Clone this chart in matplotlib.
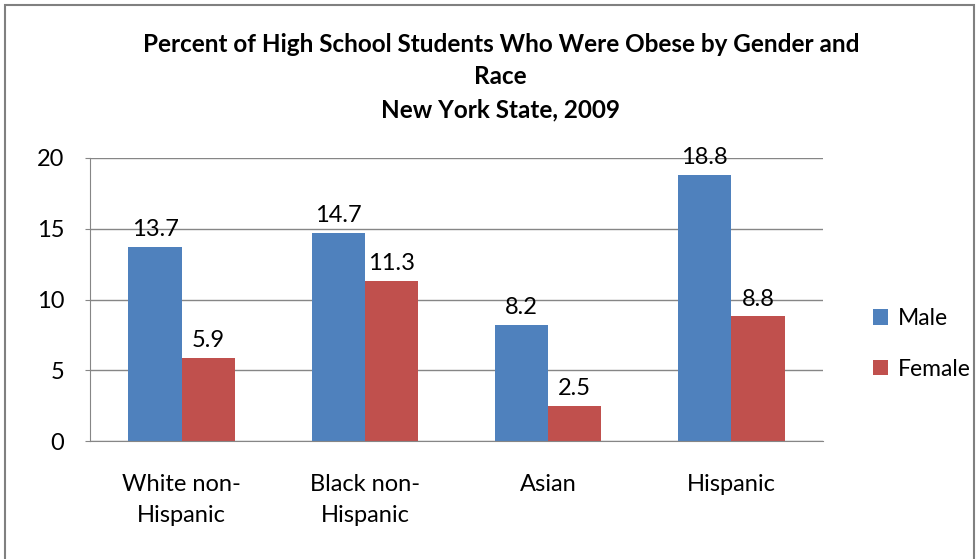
import numpy as np
import matplotlib
matplotlib.use("Agg")
import matplotlib.pyplot as plt
from matplotlib.patches import Rectangle

# Data
categories = ["White non-\nHispanic", "Black non-\nHispanic", "Asian", "Hispanic"]
male = [13.7, 14.7, 8.2, 18.8]
female = [5.9, 11.3, 2.5, 8.8]
yticks = [0, 5, 10, 15, 20]

blue = "#4F81BD"
red = "#C0504D"
grid_col = "#868686"

plt.rcParams['font.family'] = ['Lato', 'DejaVu Sans']

fig = plt.figure(figsize=(9.8, 5.59), dpi=100)
ax = fig.add_axes([90 / 980, 1 - 441 / 559, 733 / 980, 283 / 559])

x = np.arange(len(categories))
w = 0.29
b1 = ax.bar(x - w / 2, male, w, color=blue, label="Male")
b2 = ax.bar(x + w / 2, female, w, color=red, label="Female")

for bars in (b1, b2):
    for r in bars:
        ax.annotate(f"{r.get_height():.1f}", (r.get_x() + r.get_width() / 2, r.get_height()),
                    xytext=(0, 5), textcoords="offset points", ha="center", va="bottom",
                    fontsize=17)

ax.set_xlim(-0.5, len(categories) - 0.5)
ax.set_ylim(0, 20)
ax.set_yticks(yticks)
ax.set_xticks(x)
ax.set_xticklabels(categories, fontsize=17, linespacing=1.55)
ax.tick_params(axis="x", length=0, pad=24)
ax.tick_params(axis="y", length=3.6, color=grid_col, labelsize=17, pad=15)
ax.yaxis.grid(True, color=grid_col, linewidth=1)
ax.set_axisbelow(True)
for s in ("top", "right"):
    ax.spines[s].set_visible(False)
for s in ("left", "bottom"):
    ax.spines[s].set_color(grid_col)

fig.text(0.511, 1 - 45 / 559, "Percent of High School Students Who Were Obese by Gender and",
         ha="center", va="center", fontsize=17.5, fontweight="bold")
fig.text(0.511, 1 - 77 / 559, "Race", ha="center", va="center", fontsize=17.5, fontweight="bold")
fig.text(0.511, 1 - 110 / 559, "New York State, 2009", ha="center", va="center",
         fontsize=17.5, fontweight="bold")

fig.legend(handles=[b1, b2], loc="center left", bbox_to_anchor=(852 / 980, 1 - 344 / 559),
           frameon=False, fontsize=16.5, handlelength=0.65, handleheight=0.65,
           handletextpad=0.45, labelspacing=1.3)

fig.patches.append(Rectangle((5 / 980, -0.1), 969 / 980, 1.1 - 5 / 559,
                             transform=fig.transFigure, fill=False,
                             edgecolor="#808080", linewidth=1.5))

fig.savefig("out.png", dpi=100)
